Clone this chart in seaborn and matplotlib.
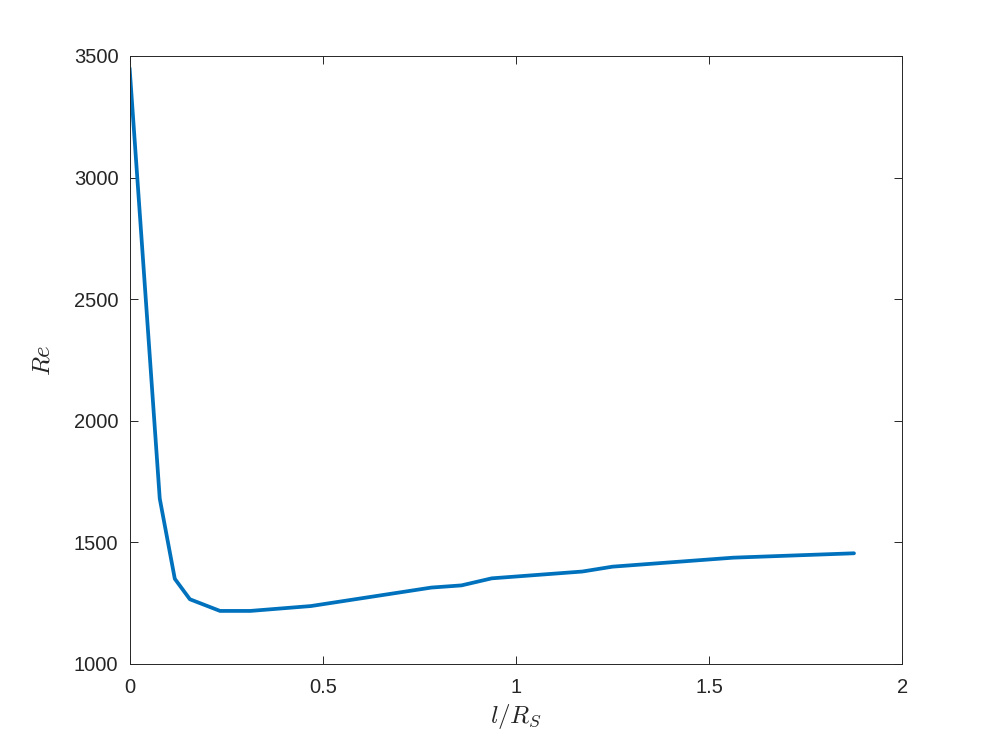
"""
Re versus l/R_S, matlab-like look
"""

import pandas as pd
import seaborn as sns
import matplotlib.pyplot as plt

l_over_rs = [0.0, 0.078, 0.117, 0.156, 0.234, 0.3125, 0.469, 0.781, 0.859,
             0.9375, 1.172, 1.25, 1.5625, 1.875]
re_vals = [3450, 1680, 1350, 1266, 1218, 1218, 1238, 1314, 1323,
           1352, 1380, 1400, 1437, 1455]

df = pd.DataFrame({"l": l_over_rs, "re": re_vals})

sns.set_style("ticks")
plt.rcParams["font.family"] = ["Liberation Sans", "DejaVu Sans"]
plt.rcParams["mathtext.fontset"] = "cm"

fig = plt.figure(figsize=(9.97, 7.46), dpi=100)
ax = fig.add_axes([0.13, 0.11, 0.775, 0.815])

sns.lineplot(data=df, x="l", y="re", ax=ax, color="#0072BD", linewidth=2.7)

ax.set_xlim(0, 2)
ax.set_ylim(1000, 3500)
ax.set_xticks([0, 0.5, 1, 1.5, 2])
ax.set_xticklabels(["0", "0.5", "1", "1.5", "2"])
ax.set_yticks(range(1000, 3501, 500))

edge = "#262626"
for s in ax.spines.values():
    s.set_visible(True)
    s.set_color(edge)
    s.set_linewidth(0.7)
ax.tick_params(direction="in", length=6, width=0.7, colors=edge,
               labelsize=14.5, top=True, right=True, pad=8)
ax.tick_params(axis="x", pad=10)
ax.tick_params(labeltop=False, labelright=False)

ax.set_xlabel(r"$l/R_S$", fontsize=18, color=edge, labelpad=4)
ax.set_ylabel(r"$Re$", fontsize=18, color=edge, labelpad=14)

fig.savefig("out.png", dpi=100)
